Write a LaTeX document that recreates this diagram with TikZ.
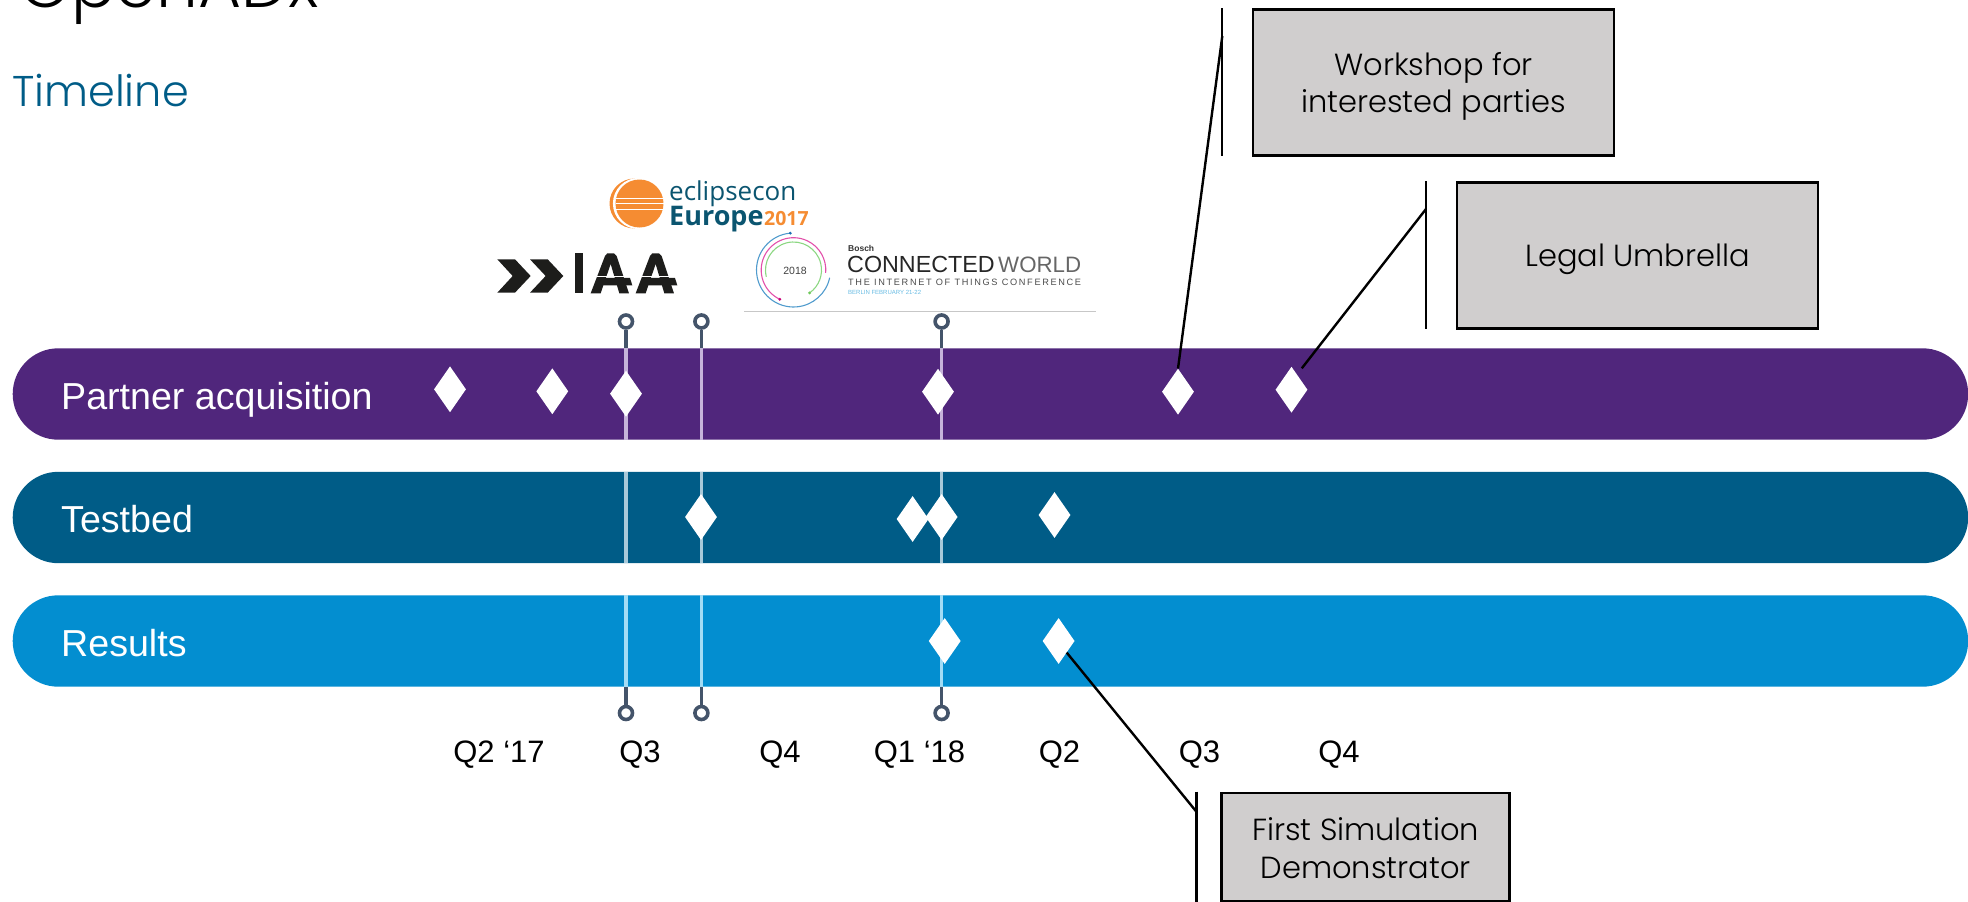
\documentclass[tikz,border=0pt]{standalone}
\usepackage{fontspec}
\usetikzlibrary{shapes.geometric,calc}
\setmainfont{Liberation Sans}
\newfontfamily\gothic{Poppins Light}
\newfontfamily\osans{Open Sans}
\newfontfamily\spaced[LetterSpace=18]{Liberation Sans}
\definecolor{cpurple}{HTML}{50267C}
\definecolor{cteal}{HTML}{005C87}
\definecolor{cblue}{HTML}{038ED0}
\definecolor{cbox}{HTML}{D0CECE}
\definecolor{cslate}{HTML}{44546A}
\definecolor{lpurple}{HTML}{C6B4DA}
\definecolor{lteal}{HTML}{A8C9D9}
\definecolor{lblue}{HTML}{A3DCF5}
\definecolor{corange}{HTML}{F58C32}
\definecolor{cecl}{HTML}{0B5570}
\definecolor{ciaa}{HTML}{1D1D1B}
\definecolor{arcblue}{RGB}{80,155,205}
\definecolor{dotblue}{RGB}{30,110,180}
\definecolor{arcpink}{RGB}{226,80,170}
\definecolor{dotpink}{RGB}{200,0,120}
\definecolor{arcgreen}{RGB}{140,215,130}
\definecolor{dotgreen}{RGB}{110,200,90}
\tikzset{
  x=1pt,y=-1pt,
  bandbox/.style={rectangle,rounded corners=45.7pt,draw=none,minimum width=1955.5pt,minimum height=91.4pt,inner sep=0pt,anchor=west},
  bandtext/.style={anchor=base west,inner sep=0pt,text=white,font=\fontsize{37.6}{44}\selectfont},
  ms/.style={diamond,fill=white,draw=none,inner sep=0pt,minimum width=32pt,minimum height=46pt},
  pinring/.style={circle,draw=cslate,line width=3.6pt,fill=white,inner sep=0pt,minimum size=13pt},
  pinline/.style={cslate,line width=3.6pt},
  quarter/.style={anchor=base,inner sep=0pt,font=\fontsize{31}{36}\selectfont},
  calloutbox/.style={rectangle,draw=black,line width=2.6pt,fill=cbox,inner sep=0pt,outer sep=0pt,anchor=north west},
  callouttext/.style={anchor=center,inner sep=0pt,align=center,font=\gothic\fontsize{30.5}{37.7}\selectfont},
  calloutbar/.style={black,line width=2.2pt},
  leader/.style={black,line width=2.4pt},
  logotext/.style={anchor=base west,inner sep=0pt},
  logoarc/.style={line width=1.1pt},
}
\begin{document}
\begin{tikzpicture}
\useasboundingbox (0,0) rectangle (1968,902);
% title
\node[logotext,font=\gothic\fontsize{66}{72}\selectfont] (title) at (19,8) {OpenADx};
\node[logotext,text=cteal,font=\gothic\fontsize{43}{50}\selectfont] (sub) at (12,106) {Timeline};
% bands
\node[bandbox,fill=cpurple] (pa) at (12.5,394) {};
\node[bandbox,fill=cteal] (tb) at (12.5,517.5) {};
\node[bandbox,fill=cblue] (rs) at (12.5,641) {};
\node[bandtext] (lpa) at (61,409.5) {Partner acquisition};
\node[bandtext] (ltb) at (61,532.5) {Testbed};
\node[bandtext] (lrs) at (61,656.5) {Results};
% pins
\foreach \n/\px in {a/626,b/701.4,c/941.6}{
  \node[pinring] (top\n) at (\px,321.5) {};
  \node[pinring] (bot\n) at (\px,713) {};
  \draw[pinline] (top\n.south) -- (top\n|-pa.north);
  \draw[pinline] (bot\n.north) -- (bot\n|-rs.south);
  \draw[lpurple,line width=3.6pt] (top\n|-pa.north) -- (top\n|-pa.south);
  \draw[lteal,line width=3.6pt] (top\n|-tb.north) -- (top\n|-tb.south);
  \draw[lblue,line width=3.6pt] (top\n|-rs.north) -- (top\n|-rs.south);
}
% milestones
\node[ms] (m1) at (450,389.3) {};
\node[ms] (m2) at (552.3,391.3) {};
\node[ms] (m3) at (626,393.7) {};
\node[ms] (m4) at (938,391.7) {};
\node[ms] (m5) at (1178,391.7) {};
\node[ms] (m6) at (1291.5,389.7) {};
\node[ms] (t1) at (701,517) {};
\node[ms] (t2) at (912.6,519) {};
\node[ms] (t3) at (941.6,517) {};
\node[ms] (t4) at (1054.5,515) {};
\node[ms] (r1) at (944.7,641) {};
\node[ms] (r2) at (1058.6,641) {};
% quarters
\node[quarter] (q1) at (499,762.5) {Q2 ‘17};
\node[quarter] (q2) at (640,762.5) {Q3};
\node[quarter] (q3) at (780,762.5) {Q4};
\node[quarter] (q4) at (919.5,762.5) {Q1 ‘18};
\node[quarter] (q5) at (1059.5,762.5) {Q2};
\node[quarter] (q6) at (1199.5,762.5) {Q3};
\node[quarter] (q7) at (1339,762.5) {Q4};
% callouts
\node[calloutbox,minimum width=361pt,minimum height=146pt] (bw) at (1253.1,9.3) {};
\node[callouttext] (tw) at ([yshift=-4pt]bw.center) {Workshop for\\interested parties};
\node[calloutbox,minimum width=361pt,minimum height=146pt] (bl) at (1457.1,182.3) {};
\node[callouttext] (tl) at ([yshift=-4pt]bl.center) {Legal Umbrella};
\node[calloutbox,minimum width=288pt,minimum height=108pt] (bf) at (1221.7,793) {};
\node[callouttext] (tf) at ([yshift=-1pt]bf.center) {First Simulation\\Demonstrator};
\coordinate (wt) at (1222.3,8); \coordinate (wb) at (1222.3,156); \coordinate (wj) at (1222.3,36);
\coordinate (lt) at (1426,181); \coordinate (lb) at (1426,329); \coordinate (lj) at (1426,209);
\coordinate (ft) at (1196.4,791.7); \coordinate (fb) at (1196.4,902); \coordinate (fj) at (1196.4,811.7);
\coordinate (lend) at (1301.8,368.3);
\draw[calloutbar] (wt) -- (wb);
\draw[calloutbar] (lt) -- (lb);
\draw[calloutbar] (ft) -- (fb);
\draw[leader] (wj) -- (m5.north);
\draw[leader] (lj) -- (lend);
\draw[leader] (fj) -- (r2.south east);
% eclipsecon logo
\fill[corange] (634.5,203.5) circle (25);
\fill[white] (638.5,203.5) circle (25.6);
\fill[corange] (639.5,203.5) circle (24);
\fill[white] (616,197.6) rectangle (663.5,199);
\fill[white] (616,202.6) rectangle (663.5,204);
\fill[white] (616,209) rectangle (663.5,210.4);
\node[logotext,text=cecl,font=\osans\fontsize{26}{30}\selectfont] (ecl1) at (669,200.5) {eclipsecon};
\node[logotext,text=cecl,font=\osans\bfseries\fontsize{27}{30}\selectfont] (ecl2) at (669,225) {Europe};
\node[logotext,text=corange,font=\osans\bfseries\fontsize{19.5}{24}\selectfont] (ecl3) at (764,225) {2017};
% IAA logo
\begin{scope}[shift={(480,160)},x=0.3333pt,y=-0.3333pt]
\fill[ciaa] (52,298) -- (105,298) -- (152,348) -- (105,398) -- (52,398) -- (98,348) -- cycle;
\fill[ciaa] (150,298) -- (203,298) -- (250,348) -- (203,398) -- (150,398) -- (197,348) -- cycle;
\fill[ciaa] (284,280) rectangle (310,400);
\foreach \dx in {0,135}{
  \begin{scope}[xshift=\dx*0.3333pt]
  \fill[ciaa] (332,400) -- (375,288) -- (382,280) -- (402,280) -- (410,288) -- (447,400) -- (418,400) -- (392,312) -- (362,400) -- cycle;
  \fill[ciaa] (362,354) -- (450,354) -- (457,376) -- (355,376) -- cycle;
  \draw[white,line width=0.8pt] (350,350) -- (450,350);
  \end{scope}
}
\end{scope}
% connected world logo
\coordinate (cw) at (793.5,270);
\draw[arcblue,logoarc] ($(cw)+(-95:37)$) arc (-95:-348:37);
\fill[dotblue] ($(cw)+(-95:37)$) circle (1.6);
\draw[arcpink,logoarc] ($(cw)+(-245:32.3)$) arc (-245:5:32.3);
\fill[dotpink] ($(cw)+(-245:32.3)$) circle (1.6);
\draw[arcgreen,logoarc] ($(cw)+(-194:28)$) arc (-194:55:28);
\fill[dotgreen] ($(cw)+(55:28)$) circle (1.6);
\node[anchor=center,inner sep=0pt,text=black!75,font=\fontsize{10.5}{12}\selectfont] (yr) at (795,270.7) {2018};
\node[logotext,text=black!80,font=\bfseries\fontsize{8.5}{10}\selectfont] (bosch) at (848,251.5) {Bosch};
\node[logotext,text=black!85,font=\fontsize{23.3}{26}\selectfont] (cn) at (847,272.5) {CONNECTED};
\node[logotext,text=black!60,font=\fontsize{22.3}{26}\selectfont] (wd) at (998,272.5) {WORLD};
\node[logotext,text=black!70,font=\spaced\fontsize{9.2}{11}\selectfont] (iot) at (848,285.5) {THE INTERNET OF THINGS CONFERENCE};
\node[logotext,text=cblue!60,font=\fontsize{6}{7}\selectfont] (bl2) at (848,294.5) {BERLIN FEBRUARY 21-22};
\coordinate (rl) at (744,311); \coordinate (rr) at (1096,311);
\draw[black!22,line width=1pt] (rl) -- (rr);
\end{tikzpicture}
\end{document}
